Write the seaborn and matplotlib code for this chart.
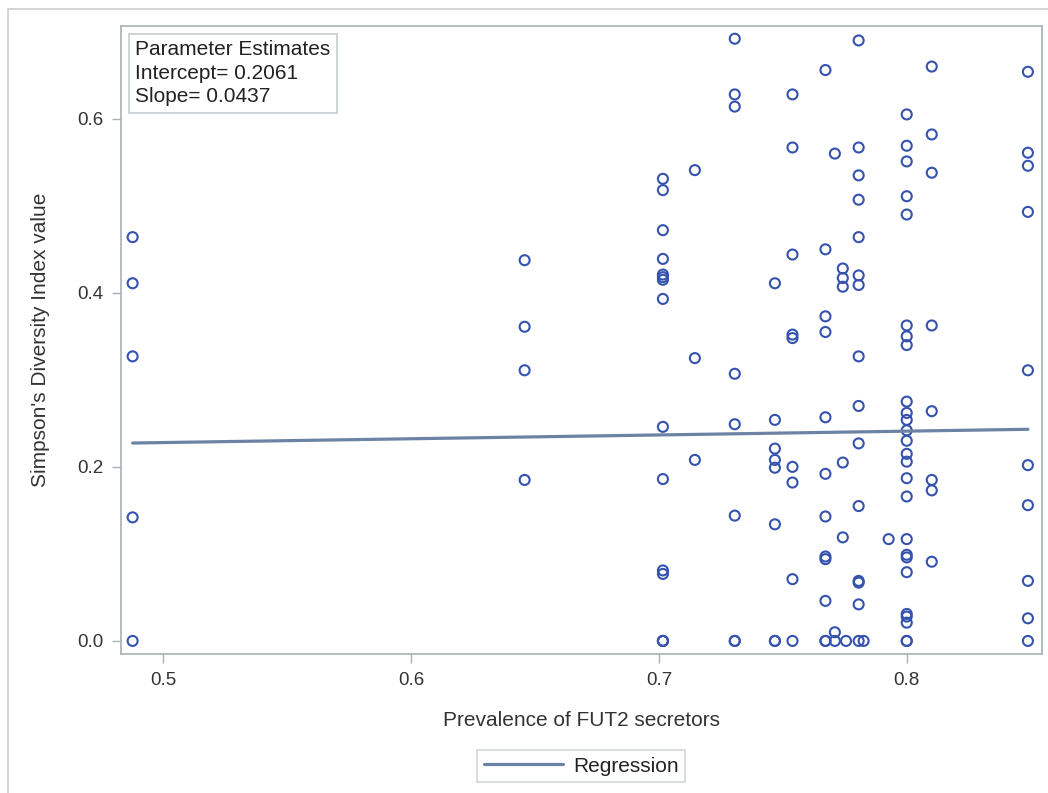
import numpy as np
import pandas as pd
import matplotlib
matplotlib.use("Agg")
import matplotlib.pyplot as plt
from matplotlib.patches import Rectangle
import seaborn as sns

# prevalence of FUT2 secretors (x) and Simpson's index (y)
prevalence = (
    [0.4876] * 5
    + [0.6458] * 4
    + [0.7016] * 15
    + [0.7145] * 3
    + [0.7306] * 8
    + [0.7468] * 8
    + [0.7539] * 9
    + [0.7672] * 12
    + [0.7710] * 3
    + [0.7742] * 5 + [0.7755]
    + [0.7806] * 15 + [0.7826]
    + [0.7927]
    + [0.8000] * 26
    + [0.8101] * 8
    + [0.8489] * 10
)
simpson = (
    [0.464, 0.411, 0.327, 0.142, 0.0]
    + [0.4375, 0.361, 0.311, 0.185]
    + [0.531, 0.518, 0.472, 0.439, 0.421, 0.418, 0.415, 0.393, 0.246, 0.186,
       0.081, 0.077, 0.0, 0.0, 0.0]
    + [0.541, 0.325, 0.208]
    + [0.692, 0.628, 0.614, 0.307, 0.249, 0.144, 0.0, 0.0]
    + [0.411, 0.254, 0.221, 0.208, 0.199, 0.134, 0.0, 0.0]
    + [0.628, 0.567, 0.444, 0.352, 0.348, 0.200, 0.182, 0.071, 0.0]
    + [0.656, 0.450, 0.373, 0.355, 0.257, 0.192, 0.143, 0.097, 0.094, 0.046,
       0.0, 0.0]
    + [0.560, 0.010, 0.0]
    + [0.428, 0.417, 0.407, 0.205, 0.119] + [0.0]
    + [0.690, 0.567, 0.535, 0.507, 0.464, 0.420, 0.409, 0.327, 0.270, 0.227,
       0.155, 0.069, 0.067, 0.042, 0.0] + [0.0]
    + [0.117]
    + [0.605, 0.569, 0.551, 0.511, 0.490, 0.3625, 0.350, 0.340, 0.275, 0.262,
       0.254, 0.242, 0.230, 0.215, 0.206, 0.187, 0.166, 0.117, 0.099, 0.096,
       0.079, 0.031, 0.028, 0.021, 0.0, 0.0]
    + [0.660, 0.582, 0.538, 0.3625, 0.264, 0.185, 0.173, 0.091]
    + [0.654, 0.561, 0.546, 0.493, 0.311, 0.202, 0.156, 0.069, 0.026, 0.0]
)
intercept = 0.2061
slope = 0.0437
x_ticks = [0.5, 0.6, 0.7, 0.8]
y_ticks = [0.0, 0.2, 0.4, 0.6]

df = pd.DataFrame({"prevalence": prevalence, "simpson": simpson})

sns.set_theme(style="white")
plt.rcParams["font.family"] = ["Liberation Sans", "DejaVu Sans"]

marker_col = "#3553AE"
line_col = "#6C83A6"
frame_col = "#A9AFB3"
text_col = "#333333"

fig = plt.figure(figsize=(10.48, 7.93), dpi=100)
ax = fig.add_axes([0.1152, 0.1753, 0.8791, 0.7919])

sns.scatterplot(data=df, x="prevalence", y="simpson", ax=ax, marker="o", s=52,
                facecolor="none", edgecolor=marker_col, linewidth=1.5, zorder=2)

# fitted line from the parameter estimates over the data range
xs = np.array([df["prevalence"].min(), df["prevalence"].max()])
ax.plot(xs, intercept + slope * xs, color=line_col, lw=2.3, zorder=3,
        label="Regression")

ax.set_xlim(0.4828, 0.8546)
ax.set_ylim(-0.015, 0.7066)
ax.set_xticks(x_ticks)
ax.set_yticks(y_ticks)
ax.set_xticklabels([f"{t:.1f}" for t in x_ticks])
ax.set_yticklabels([f"{t:.1f}" for t in y_ticks])
ax.tick_params(axis="both", which="both", direction="out", length=6.7, width=1,
               color=frame_col, labelsize=13.5, labelcolor=text_col, pad=6,
               bottom=True, left=True)
for sp in ax.spines.values():
    sp.set_color(frame_col)
    sp.set_linewidth(1.2)

ax.set_xlabel("Prevalence of FUT2 secretors", fontsize=15, color=text_col,
              labelpad=16)
ax.set_ylabel("Simpson's Diversity Index value", fontsize=15, color=text_col,
              labelpad=19)

ax.text(0.0155, 0.977,
        f"Parameter Estimates\nIntercept= {intercept:.4f}\nSlope= {slope:.4f}",
        transform=ax.transAxes, ha="left", va="top", fontsize=15,
        color="#222222", linespacing=1.3,
        bbox=dict(boxstyle="square,pad=0.3", facecolor="white",
                  edgecolor="#C8CCCF", linewidth=1.2))

leg = fig.legend(loc="center", bbox_to_anchor=(0.5546, 0.034), fontsize=15,
                 frameon=True, fancybox=False, handlelength=3.8,
                 handletextpad=0.5, borderpad=0.3, borderaxespad=0)
leg.get_frame().set_edgecolor("#C8CCCF")
leg.get_frame().set_linewidth(1.2)
for t in leg.get_texts():
    t.set_color("#222222")

# light outer border of the graph area
fig.add_artist(Rectangle((8 / 1048, -0.1), 1.2, 1.1 - 9 / 793,
                         transform=fig.transFigure, fill=False,
                         edgecolor="#CDCDCD", linewidth=1.2))

fig.savefig("out.png", dpi=100)
